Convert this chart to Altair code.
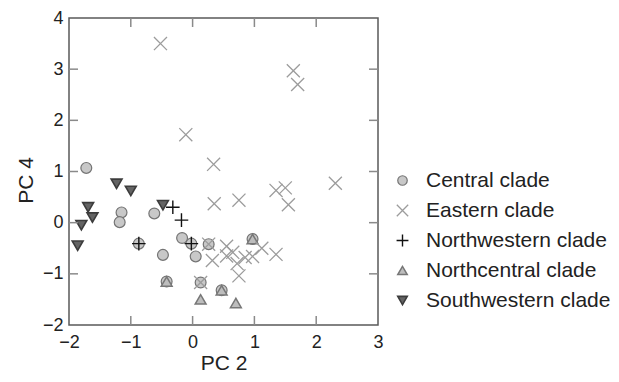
import altair as alt
import pandas as pd

clades = ["Central clade", "Eastern clade", "Northwestern clade",
          "Northcentral clade", "Southwestern clade"]

central_x = [-1.72, -1.15, -1.18, -0.62, -0.17, -0.48, 0.05, -0.87, -0.02, 0.26, 0.13, -0.42, 0.47, 0.97]
central_y = [1.07, 0.20, 0.01, 0.18, -0.30, -0.63, -0.66, -0.41, -0.41, -0.42, -1.17, -1.15, -1.32, -0.32]

northcentral_x = [-0.42, 0.47, 0.97, 0.13, 0.70]
northcentral_y = [-1.15, -1.32, -0.32, -1.50, -1.57]

eastern_x = [-0.52, -0.11, 0.34, 1.63, 1.70, 2.31, 0.35, 0.75, 1.35, 1.50, 1.55,
             0.26, 0.13, 0.55, 0.32, 0.55, 0.72, 0.85, 0.97, 0.75, 1.12, 1.35, 0.65]
eastern_y = [3.50, 1.72, 1.14, 2.97, 2.70, 0.77, 0.37, 0.44, 0.63, 0.68, 0.35,
             -0.42, -1.17, -0.46, -0.74, -0.65, -0.80, -0.68, -0.66, -1.04, -0.50, -0.62, -0.58]

northwestern_x = [-0.32, -0.18, -0.87, -0.02]
northwestern_y = [0.30, 0.05, -0.41, -0.41]

southwestern_x = [-1.23, -1.00, -1.69, -1.62, -1.80, -1.86, -0.48]
southwestern_y = [0.76, 0.62, 0.30, 0.10, -0.05, -0.45, 0.34]

x_ticks = [-2, -1, 0, 1, 2, 3]
y_ticks = [-2, -1, 0, 1, 2, 3, 4]
x_inner = [-1, 0, 1, 2]
y_inner = [-1, 0, 1, 2, 3]

rows = []
for name, xs_, ys_ in [("Central clade", central_x, central_y),
                       ("Northcentral clade", northcentral_x, northcentral_y),
                       ("Eastern clade", eastern_x, eastern_y),
                       ("Northwestern clade", northwestern_x, northwestern_y),
                       ("Southwestern clade", southwestern_x, southwestern_y)]:
    for a, b in zip(xs_, ys_):
        rows.append({"pc2": a, "pc4": b, "clade": name})
df = pd.DataFrame(rows)

W, H = 309, 307
FONT = "Liberation Sans"
xs = alt.Scale(domain=[-2, 3], nice=False, zero=False)
ys = alt.Scale(domain=[-2, 4], nice=False, zero=False)

shapes = ["circle",
          "M-1.2,-1.2L1.2,1.2M1.2,-1.2L-1.2,1.2",
          "M-1.25,0L1.25,0M0,-1.25L0,1.25",
          "triangle-up",
          "triangle-down"]
fills = ["#c8c8c8", "transparent", "transparent", "#bdbdbd", "#646464"]
strokes = ["#747474", "#9c9c9c", "#111111", "#777777", "#3c3c3c"]
widths = [1.2, 1.6, 2.0, 1.2, 1.2]

legend = alt.Legend(title=None, orient="none", legendX=323, legendY=152,
                    labelFontSize=21, labelFont=FONT, labelColor="#222222",
                    labelLimit=400, symbolSize=90, labelOffset=13,
                    rowPadding=8, padding=0)

x_axis = alt.Axis(values=x_ticks, ticks=False, domain=False, grid=False,
                  labelFontSize=18, labelFont=FONT, labelColor="#222222",
                  labelPadding=8, labelFlush=False,
                  title="PC 2", titleFont=FONT, titleFontSize=21,
                  titleFontWeight="normal", titleColor="#222222",
                  titleX=W / 2, titleY=38, titleBaseline="middle")
y_axis = alt.Axis(values=y_ticks, ticks=False, domain=False, grid=False,
                  labelFontSize=18, labelFont=FONT, labelColor="#222222",
                  labelPadding=6, labelFlush=False,
                  title="PC 4", titleFont=FONT, titleFontSize=21,
                  titleFontWeight="normal", titleColor="#222222",
                  titleX=-43, titleY=162, titleBaseline="middle")

points = alt.Chart(df).mark_point(filled=True, size=118, opacity=1).encode(
    x=alt.X("pc2:Q", scale=xs, axis=x_axis),
    y=alt.Y("pc4:Q", scale=ys, axis=y_axis),
    shape=alt.Shape("clade:N", scale=alt.Scale(domain=clades, range=shapes), legend=legend),
    fill=alt.Fill("clade:N", scale=alt.Scale(domain=clades, range=fills)),
    stroke=alt.Stroke("clade:N", scale=alt.Scale(domain=clades, range=strokes)),
    strokeWidth=alt.StrokeWidth("clade:N", scale=alt.Scale(domain=clades, range=widths)),
)

xt = pd.DataFrame({"pc2": x_inner})
yt = pd.DataFrame({"pc4": y_inner})
tick_style = dict(color="#8a8a8a", strokeWidth=1.5)

bottom = alt.Chart(xt).mark_rule(**tick_style).encode(
    x=alt.X("pc2:Q", scale=xs, axis=x_axis), y=alt.value(H), y2=alt.value(H - 9))
top = alt.Chart(xt).mark_rule(**tick_style).encode(
    x=alt.X("pc2:Q", scale=xs, axis=x_axis), y=alt.value(0), y2=alt.value(9))
left = alt.Chart(yt).mark_rule(**tick_style).encode(
    y=alt.Y("pc4:Q", scale=ys, axis=y_axis), x=alt.value(0), x2=alt.value(9))
right = alt.Chart(yt).mark_rule(**tick_style).encode(
    y=alt.Y("pc4:Q", scale=ys, axis=y_axis), x=alt.value(W), x2=alt.value(W - 9))

chart = alt.layer(points, bottom, top, left, right).properties(
    width=W, height=H,
    autosize=alt.AutoSizeParams(type="none"),
    padding={"left": 61, "top": 10, "right": 233, "bottom": 49},
).configure_view(stroke="#5a5a5a", strokeWidth=1.5)

chart.save("out.html", embed_options={"renderer": "svg", "actions": False})
